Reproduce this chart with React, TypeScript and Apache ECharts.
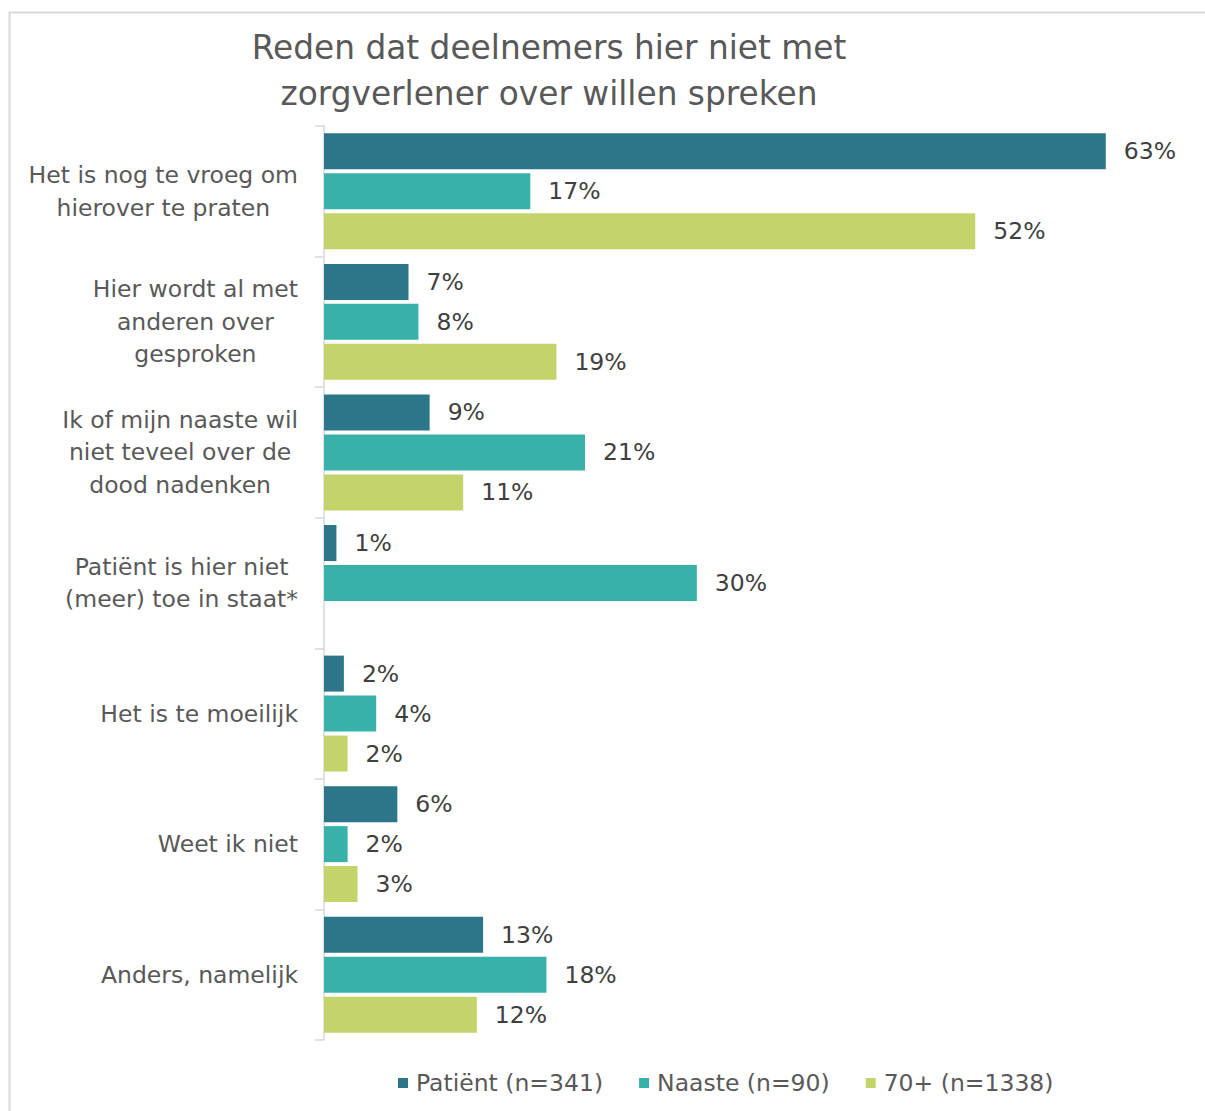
import React, { useEffect, useRef } from "react";
import * as echarts from "echarts";

const titleText = "Reden dat deelnemers hier niet met\nzorgverlener over willen spreken";

const categories = [
  "Het is nog te vroeg om\nhierover te praten",
  "Hier wordt al met\nanderen over\ngesproken",
  "Ik of mijn naaste wil\nniet teveel over de\ndood nadenken",
  "Patiënt is hier niet\n(meer) toe in staat*",
  "Het is te moeilijk",
  "Weet ik niet",
  "Anders, namelijk",
];

const seriesNames = ["Patiënt (n=341)", "Naaste (n=90)", "70+ (n=1338)"];
const seriesColors = ["#2B7689", "#38B2A9", "#C4D46B"];

const patient = [62.9, 6.8, 8.5, 1.0, 1.6, 5.9, 12.8];
const naaste = [16.6, 7.6, 21.0, 30.0, 4.2, 1.9, 17.9];
const seventyPlus = [52.4, 18.7, 11.2, null, 1.9, 2.7, 12.3];

const seriesData = [patient, naaste, seventyPlus];

const FONT = "'DejaVu Sans', Verdana, Tahoma, sans-serif";

export default function App() {
  const ref = useRef<HTMLDivElement>(null);

  useEffect(() => {
    if (!ref.current) return;
    const chart = echarts.init(ref.current, null, { renderer: "svg" });
    chart.setOption({
      animation: false,
      backgroundColor: "#FFFFFF",
      textStyle: { fontFamily: FONT },
      graphic: [
        {
          type: "rect",
          silent: true,
          z: -10,
          shape: { x: 9.5, y: 12.5, width: 1300, height: 1200 },
          style: { fill: "none", stroke: "#D9D9D9", lineWidth: 2 },
        },
      ],
      title: {
        text: titleText,
        left: 544,
        top: 20,
        textAlign: "center",
        textStyle: {
          fontFamily: FONT,
          fontSize: 32.8,
          fontWeight: "normal",
          color: "#595959",
          lineHeight: 46,
        },
      },
      legend: {
        data: seriesNames,
        left: 393,
        top: 1064,
        icon: "rect",
        itemWidth: 10,
        itemHeight: 10,
        itemGap: 36,
        textStyle: {
          fontFamily: FONT,
          fontSize: 23.5,
          color: "#595959",
          lineHeight: 28,
          padding: [0, 0, 0, 3],
        },
      },
      grid: {
        left: 324,
        top: 126,
        width: 870,
        height: 914,
        containLabel: false,
      },
      xAxis: {
        type: "value",
        min: 0,
        max: 70,
        show: false,
        splitLine: { show: false },
      },
      yAxis: {
        type: "category",
        data: categories,
        inverse: true,
        axisLine: { show: true, lineStyle: { color: "#D9D9D9", width: 1.5 } },
        axisTick: { show: true, length: 9, lineStyle: { color: "#D9D9D9", width: 1.5 } },
        axisLabel: {
          margin: 26,
          fontFamily: FONT,
          fontSize: 23.5,
          color: "#595959",
          lineHeight: 32.5,
          formatter: (v: string) =>
            v
              .split("\n")
              .map((l) => `{c|${l}}`)
              .join("\n"),
          rich: {
            c: {
              align: "center",
              fontFamily: FONT,
              fontSize: 23.5,
              color: "#595959",
              lineHeight: 32.5,
            },
          },
        },
      },
      series: seriesData.map((d, i) => ({
        name: seriesNames[i],
        type: "bar",
        data: d,
        barWidth: 36,
        barGap: "11%",
        itemStyle: { color: seriesColors[i] },
        label: {
          show: true,
          position: "right",
          distance: 18,
          fontFamily: FONT,
          fontSize: 23.5,
          color: "#404040",
          formatter: (p: any) =>
            p.value == null ? "" : `${Math.round(p.value)}%`,
        },
      })),
    });
    return () => chart.dispose();
  }, []);

  return (
    <div
      ref={ref}
      style={{ position: "absolute", left: 0, top: 0, width: 1205, height: 1111 }}
    />
  );
}
